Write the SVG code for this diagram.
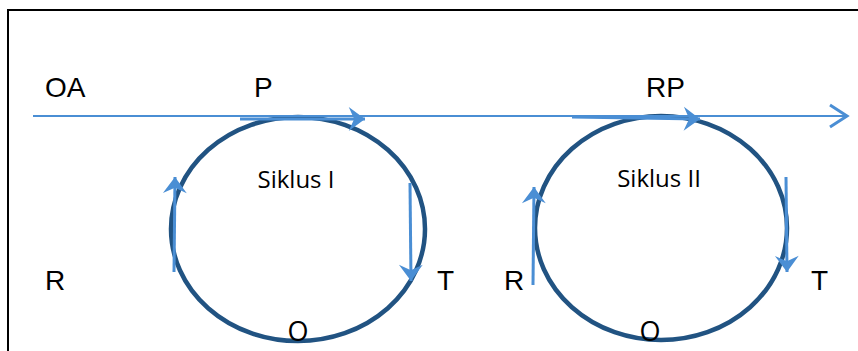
<svg xmlns="http://www.w3.org/2000/svg" width="858" height="351" viewBox="0 0 858 351">
<defs>
<style>
.frame{fill:none;stroke:#000;stroke-width:2}
.cycle{fill:none;stroke:#215382;stroke-width:4.5}
.main{fill:none;stroke:#4a8ed4;stroke-width:2}
.arr{fill:none;stroke:#4a8ed4;stroke-width:3}
.lbl{font-family:"Liberation Sans",Arial,sans-serif;font-size:28px;fill:#000}
.cap{font-family:"Open Sans","Noto Sans",sans-serif;font-size:24px;fill:#000}
.o{font-family:"Open Sans","Noto Sans",sans-serif;font-size:27px;fill:#000}
</style>
<marker id="stealth" markerUnits="userSpaceOnUse" markerWidth="20" markerHeight="26" viewBox="-16 -12 18 24" refX="0" refY="0" orient="auto">
<path d="M0,0 L-15,-11 L-10,0 L-15,11 Z" fill="#4a8ed4"/>
</marker>
<marker id="open" markerUnits="userSpaceOnUse" markerWidth="24" markerHeight="28" viewBox="-20 -14 24 28" refX="0" refY="0" orient="auto">
<path d="M-17,-11 L0,0 L-17,11" fill="none" stroke="#4a8ed4" stroke-width="3"/>
</marker>
</defs>
<g id="frame">
<path class="frame" d="M8,351 L8,10 L858,10"/>
</g>
<g id="siklus1">
<ellipse class="cycle" cx="298" cy="229" rx="127" ry="112"/>
<text class="cap" x="296" y="188" text-anchor="middle">Siklus I</text>
</g>
<g id="siklus2">
<ellipse class="cycle" cx="661" cy="228" rx="126" ry="112"/>
<text class="cap" x="659" y="187" text-anchor="middle">Siklus II</text>
</g>
<g id="connectors">
<line class="main" x1="33" y1="116" x2="847" y2="116" marker-end="url(#open)"/>
<line class="arr" x1="240" y1="119" x2="365" y2="119" marker-end="url(#stealth)"/>
<line class="arr" x1="174" y1="272" x2="175" y2="177" marker-end="url(#stealth)"/>
<line class="arr" x1="410" y1="183" x2="411" y2="281" marker-end="url(#stealth)"/>
<line class="arr" x1="572" y1="117" x2="700" y2="119" marker-end="url(#stealth)"/>
<line class="arr" x1="533" y1="285" x2="534" y2="187" marker-end="url(#stealth)"/>
<line class="arr" x1="786" y1="177" x2="787" y2="272" marker-end="url(#stealth)"/>
</g>
<g id="labels">
<text class="lbl" x="45" y="97">OA</text>
<text class="lbl" x="254" y="97">P</text>
<text class="lbl" x="646" y="97">RP</text>
<text class="lbl" x="45" y="290">R</text>
<text class="lbl" x="437" y="290">T</text>
<text class="lbl" x="504" y="290">R</text>
<text class="lbl" x="811" y="290">T</text>
<text class="o" x="298" y="341" text-anchor="middle">O</text>
<text class="o" x="650" y="341" text-anchor="middle">O</text>
</g>
</svg>
